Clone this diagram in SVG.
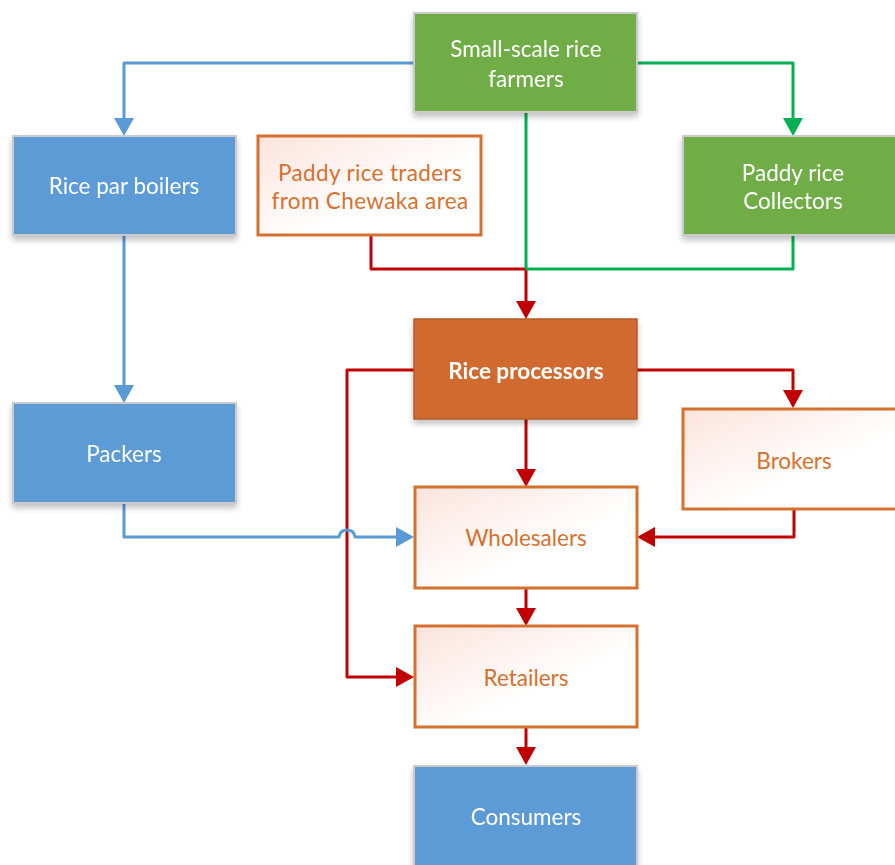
<svg xmlns="http://www.w3.org/2000/svg" width="895" height="865" viewBox="0 0 895 865">
<defs>
<linearGradient id="og" x1="0" y1="0" x2="1" y2="1">
<stop offset="0" stop-color="#FBE3DC"/>
<stop offset="0.6" stop-color="#FFFFFF"/>
</linearGradient>
<filter id="sh" x="-10%" y="-10%" width="120%" height="130%">
<feGaussianBlur in="SourceAlpha" stdDeviation="3"/>
<feOffset dx="0" dy="4"/>
<feComponentTransfer><feFuncA type="linear" slope="0.25"/></feComponentTransfer>
<feMerge><feMergeNode/><feMergeNode in="SourceGraphic"/></feMerge>
</filter>
<marker id="ab" markerUnits="userSpaceOnUse" markerWidth="20" markerHeight="20" viewBox="0 0 18 20" refX="0" refY="10" orient="auto"><path d="M0,0 L18,10 L0,20 z" fill="#5B9BD5"/></marker>
<marker id="ag" markerUnits="userSpaceOnUse" markerWidth="20" markerHeight="20" viewBox="0 0 18 20" refX="0" refY="10" orient="auto"><path d="M0,0 L18,10 L0,20 z" fill="#00B050"/></marker>
<marker id="ar" markerUnits="userSpaceOnUse" markerWidth="20" markerHeight="20" viewBox="0 0 18 20" refX="0" refY="10" orient="auto"><path d="M0,0 L18,10 L0,20 z" fill="#C00000"/></marker>
</defs>
<style>
text{font-family:Lato,"Liberation Sans",sans-serif;font-size:22.5px;text-anchor:middle;dominant-baseline:central}
.g rect{fill:#70AD47;stroke:#CBCBCB;stroke-width:2}
.b rect{fill:#5B9BD5;stroke:#CBCBCB;stroke-width:2}
.g text,.b text,.p text{fill:#FFFFFF}
.o rect{fill:url(#og);stroke:#D5712F;stroke-width:3}
.o text{fill:#D5712F}
.p rect{fill:#D06B2D;stroke:#B45C26;stroke-width:1.5}
.p text{font-weight:bold}
.c{fill:none;stroke-width:3;stroke-linejoin:round}
.cb{stroke:#5B9BD5}
.cg{stroke:#00B050}
.cr{stroke:#C00000}
</style>
<g id="connectors">
<path class="c cb" d="M414,63 H124 V118" marker-end="url(#ab)"/>
<path class="c cb" d="M124,235 V385" marker-end="url(#ab)"/>
<path class="c cg" d="M637,63 H793 V118" marker-end="url(#ag)"/>
<path class="c cr" d="M371,236 V269 H526 V301" marker-end="url(#ar)"/>
<path class="c cg" d="M526,112 V269 M793,236 V269 H526"/>
<path class="c cr" d="M414,370 H347 V677 H396" marker-end="url(#ar)"/>
<path class="c cr" d="M637,370 H793 V390" marker-end="url(#ar)"/>
<path class="c cr" d="M526,419 V469" marker-end="url(#ar)"/>
<path class="c cr" d="M794,509 V537 H655" marker-end="url(#ar)"/>
<path class="c cr" d="M526,588 V608" marker-end="url(#ar)"/>
<path class="c cr" d="M526,727 V747" marker-end="url(#ar)"/>
<path class="c cb" d="M124,503 V537 H339 Q340,530 347,530 Q354,530 355,537 H396" marker-end="url(#ab)"/>
</g>
<g id="farmers" class="g" filter="url(#sh)"><rect x="414" y="13" width="223" height="99"/><text x="526" y="48">Small-scale rice</text><text x="526" y="78">farmers</text></g>
<g id="parboilers" class="b" filter="url(#sh)"><rect x="13" y="136" width="223" height="99"/><text x="124" y="185">Rice par boilers</text></g>
<g id="traders" class="o"><rect x="258" y="136" width="223" height="99"/><text x="370" y="172" letter-spacing="0.35">Paddy rice traders</text><text x="370" y="200" letter-spacing="0.35">from Chewaka area</text></g>
<g id="collectors" class="g" filter="url(#sh)"><rect x="683" y="136" width="223" height="99"/><text x="793" y="172">Paddy rice</text><text x="793" y="200">Collectors</text></g>
<g id="packers" class="b" filter="url(#sh)"><rect x="13" y="403" width="223" height="100"/><text x="124" y="453">Packers</text></g>
<g id="processors" class="p" filter="url(#sh)"><rect x="414" y="319" width="223" height="100"/><text x="526" y="370">Rice processors</text></g>
<g id="brokers" class="o"><rect x="683" y="409" width="223" height="100"/><text x="794" y="460">Brokers</text></g>
<g id="wholesalers" class="o"><rect x="415" y="487" width="222" height="101"/><text x="526" y="537">Wholesalers</text></g>
<g id="retailers" class="o"><rect x="415" y="626" width="222" height="101"/><text x="526" y="677">Retailers</text></g>
<g id="consumers" class="b" filter="url(#sh)"><rect x="414" y="766" width="223" height="110"/><text x="526" y="816">Consumers</text></g>
</svg>
